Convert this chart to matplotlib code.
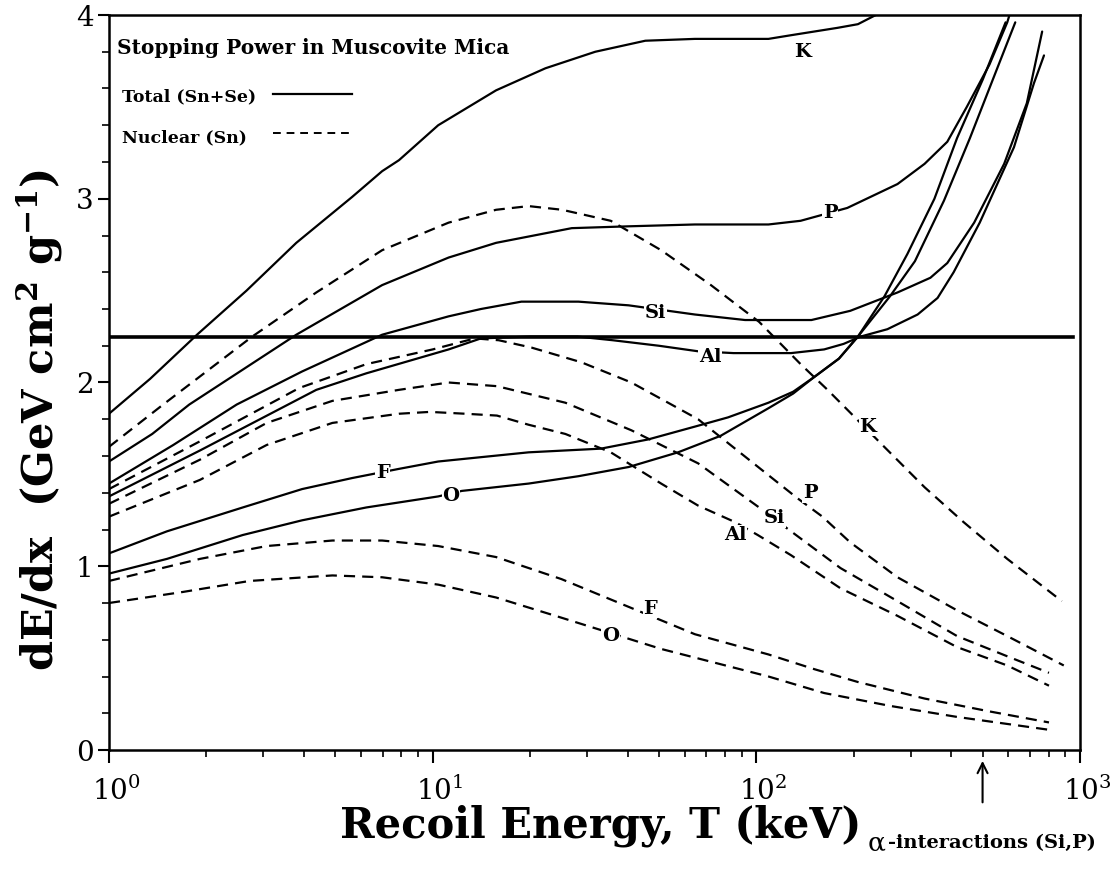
import numpy as np
import matplotlib
matplotlib.use('Agg')
import matplotlib.pyplot as plt
from matplotlib.lines import Line2D
from matplotlib.ticker import MultipleLocator, FixedLocator
import matplotlib.transforms as mtransforms

plt.rcParams['font.family'] = ['DejaVu Serif']
plt.rcParams['mathtext.fontset'] = 'dejavuserif'

# ---------------- data ----------------
# Total stopping power (Sn+Se), solid curves
K_tot_T = [1.0, 1.34, 1.87, 2.66, 3.79, 5.64, 6.98, 7.87, 10.4, 15.7, 22.3, 31.8, 45.4, 64.6, 109, 128, 178, 206, 234, 300]
K_tot_v = [1.83, 2.02, 2.26, 2.50, 2.76, 3.01, 3.15, 3.21, 3.40, 3.59, 3.71, 3.80, 3.86, 3.87, 3.87, 3.89, 3.93, 3.95, 4.0, 4.1]

P_tot_T = [1.0, 1.36, 1.77, 3.79, 6.98, 11.2, 15.7, 26.9, 40.3, 64.6, 109, 137, 191, 273, 331, 389, 447, 525, 596, 630]
P_tot_v = [1.57, 1.72, 1.88, 2.26, 2.53, 2.68, 2.76, 2.84, 2.85, 2.86, 2.86, 2.88, 2.95, 3.08, 3.19, 3.31, 3.50, 3.73, 3.96, 4.1]

Si_tot_T = [1.0, 1.58, 2.48, 3.95, 6.98, 11.2, 14.1, 18.8, 28.2, 40.3, 64.6, 92.3, 148, 195, 273, 345, 389, 471, 583, 685, 764]
Si_tot_v = [1.45, 1.66, 1.88, 2.06, 2.26, 2.36, 2.40, 2.44, 2.44, 2.42, 2.37, 2.34, 2.34, 2.39, 2.49, 2.57, 2.65, 2.87, 3.19, 3.52, 3.91]

Al_tot_T = [1.0, 1.91, 4.37, 6.24, 11.2, 14.1, 20, 28, 36, 50, 66, 85, 109, 128, 162, 186, 210, 254, 315, 363, 407, 490, 625, 721, 774]
Al_tot_v = [1.38, 1.63, 1.96, 2.05, 2.18, 2.24, 2.25, 2.25, 2.23, 2.20, 2.17, 2.16, 2.16, 2.16, 2.18, 2.21, 2.25, 2.29, 2.37, 2.46, 2.60, 2.87, 3.28, 3.63, 3.78]

F_tot_T = [1.0, 1.51, 2.59, 3.95, 5.64, 7.87, 10.4, 19.8, 33.1, 46.3, 64.6, 81.7, 109, 130, 151, 180, 206, 259, 309, 380, 457, 555, 631]
F_tot_v = [1.07, 1.19, 1.32, 1.42, 1.48, 1.53, 1.57, 1.62, 1.64, 1.69, 1.76, 1.81, 1.89, 1.95, 2.03, 2.13, 2.25, 2.47, 2.66, 2.99, 3.33, 3.71, 3.96]

O_tot_T = [1.0, 1.51, 2.59, 3.95, 6.24, 10.4, 12.3, 19.8, 28.2, 40.3, 57.3, 77.6, 109, 130, 151, 180, 206, 249, 293, 355, 417, 501, 589]
O_tot_v = [0.96, 1.04, 1.17, 1.25, 1.32, 1.38, 1.41, 1.45, 1.49, 1.54, 1.62, 1.71, 1.86, 1.94, 2.03, 2.13, 2.25, 2.47, 2.70, 3.00, 3.33, 3.65, 3.96]

# Nuclear stopping power (Sn), dashed curves
K_nuc_T = [1.0, 1.47, 2.77, 4.37, 6.98, 11.2, 15.7, 19.8, 25.1, 35.5, 50.8, 72.4, 102, 137, 166, 242, 331, 437, 596, 879]
K_nuc_v = [1.65, 1.88, 2.25, 2.49, 2.72, 2.87, 2.94, 2.96, 2.94, 2.88, 2.72, 2.53, 2.33, 2.10, 1.96, 1.67, 1.43, 1.24, 1.04, 0.81]

P_nuc_T = [1.0, 1.91, 3.87, 6.24, 10, 13.5, 16, 20.2, 28.8, 41.1, 66.1, 103, 134, 160, 195, 273, 417, 596, 891]
P_nuc_v = [1.42, 1.68, 1.97, 2.10, 2.18, 2.24, 2.23, 2.19, 2.11, 2.00, 1.80, 1.53, 1.37, 1.27, 1.13, 0.94, 0.76, 0.62, 0.46]

Si_nuc_T = [1.0, 1.91, 3.07, 4.9, 7.87, 11.2, 15.8, 25.7, 41.1, 66.1, 102, 128, 182, 273, 417, 596, 802]
Si_nuc_v = [1.34, 1.58, 1.78, 1.90, 1.96, 2.00, 1.98, 1.89, 1.74, 1.56, 1.32, 1.19, 0.99, 0.81, 0.62, 0.51, 0.42]

Al_nuc_T = [1.0, 1.91, 3.07, 4.9, 7.87, 9.8, 12.6, 15.8, 19.8, 25.7, 35.5, 50.8, 66.1, 86, 101, 128, 182, 273, 417, 596, 802]
Al_nuc_v = [1.27, 1.47, 1.66, 1.78, 1.83, 1.84, 1.83, 1.82, 1.77, 1.72, 1.62, 1.45, 1.33, 1.24, 1.17, 1.06, 0.88, 0.73, 0.56, 0.46, 0.35]

F_nuc_T = [1.0, 1.91, 3.07, 4.9, 6.98, 10.4, 15.7, 25, 64.6, 109, 151, 206, 331, 525, 802]
F_nuc_v = [0.92, 1.04, 1.11, 1.14, 1.14, 1.11, 1.05, 0.93, 0.63, 0.52, 0.44, 0.37, 0.28, 0.21, 0.15]

O_nuc_T = [1.0, 1.69, 2.72, 4.9, 6.98, 10.4, 15.7, 25, 50.8, 109, 162, 259, 417, 802]
O_nuc_v = [0.80, 0.86, 0.92, 0.95, 0.94, 0.90, 0.83, 0.72, 0.55, 0.40, 0.31, 0.24, 0.18, 0.11]

# horizontal reference line
HLINE_T = [1.0, 950]
HLINE_v = [2.25, 2.25]

# curve labels: (text, T, value, cut-line)
curve_labels = [
    ("K", 139, 3.80, False), ("P", 169, 2.92, True), ("Si", 48.7, 2.38, True),
    ("Al", 72, 2.14, True), ("F", 7.0, 1.51, True), ("O", 11.4, 1.38, True),
    ("K", 221, 1.76, True), ("P", 147, 1.40, True), ("Si", 114, 1.26, True),
    ("Al", 86, 1.17, True), ("F", 47, 0.77, True), ("O", 35.4, 0.62, True),
]
ARROW_T = 500

# ---------------- figure ----------------
W, H = 1114, 871
fig = plt.figure(figsize=(W / 100, H / 100), dpi=100)
ax = fig.add_axes([109 / W, 1 - 750 / H, 971 / W, 735 / H])

def fx(px):
    return px / W

def fy(py):
    return 1 - py / H

solid_kw = dict(color='black', lw=1.6, solid_joinstyle='round', solid_capstyle='round')
dash_kw = dict(color='black', lw=1.6, linestyle=(0, (5, 3.2)))

for T, v in [(K_tot_T, K_tot_v), (P_tot_T, P_tot_v), (Si_tot_T, Si_tot_v),
             (Al_tot_T, Al_tot_v), (F_tot_T, F_tot_v), (O_tot_T, O_tot_v)]:
    ax.plot(T, v, **solid_kw)

for T, v in [(K_nuc_T, K_nuc_v), (P_nuc_T, P_nuc_v), (Si_nuc_T, Si_nuc_v),
             (Al_nuc_T, Al_nuc_v), (F_nuc_T, F_nuc_v), (O_nuc_T, O_nuc_v)]:
    ax.plot(T, v, **dash_kw)

ax.plot(HLINE_T, HLINE_v, color='black', lw=2.6)

for txt, T, v, cut in curve_labels:
    kw = dict(ha='center', va='center', fontsize=14, fontweight='bold', zorder=5)
    if cut:
        kw['bbox'] = dict(facecolor='white', edgecolor='none', pad=0.6)
    ax.text(T, v, txt, **kw)

ax.set_xscale('log')
ax.set_xlim(1, 1000)
ax.set_ylim(0, 4)

for s in ax.spines.values():
    s.set_linewidth(1.8)

ax.yaxis.set_major_locator(FixedLocator([0, 1, 2, 3, 4]))
ax.yaxis.set_minor_locator(MultipleLocator(0.2))
ax.tick_params(axis='y', which='major', direction='out', length=8, width=1.5,
               labelsize=20, pad=3)
ax.tick_params(axis='y', which='minor', direction='out', length=5, width=1.2)
ax.tick_params(axis='x', which='major', direction='out', length=9, width=1.5,
               labelsize=20, pad=10)
ax.tick_params(axis='x', which='minor', direction='out', length=5, width=1.2)

offset = mtransforms.ScaledTranslation(0.07, 0, fig.dpi_scale_trans)
for lab in ax.get_xticklabels():
    lab.set_transform(lab.get_transform() + offset)

# axis labels
fig.text(fx(601), fy(826), "Recoil Energy, T (keV)", ha='center', va='center',
         fontsize=30, fontweight='bold')
fig.text(fx(40), fy(420), r"dE/dx  (GeV cm$^{\mathbf{2}}$ g$^{\mathbf{-1}}$)",
         ha='center', va='center', rotation=90, fontsize=31, fontweight='bold')

# title + legend
fig.text(fx(117), fy(48), "Stopping Power in Muscovite Mica", ha='left', va='center',
         fontsize=14.5, fontweight='bold')
fig.text(fx(122), fy(97), "Total (Sn+Se)", ha='left', va='center', fontsize=12.5, fontweight='bold')
fig.text(fx(122), fy(138), "Nuclear (Sn)", ha='left', va='center', fontsize=12.5, fontweight='bold')
fig.add_artist(Line2D([fx(273), fx(352)], [fy(94), fy(94)], transform=fig.transFigure,
                      color='black', lw=1.6))
fig.add_artist(Line2D([fx(273), fx(350)], [fy(133), fy(133)], transform=fig.transFigure,
                      color='black', lw=1.4, linestyle=(0, (4, 3))))

# alpha-interactions arrow and note
ax.annotate("", xy=(ARROW_T, -0.011), xycoords=('data', 'axes fraction'),
            xytext=(ARROW_T, -0.075), textcoords=('data', 'axes fraction'),
            arrowprops=dict(arrowstyle='->', lw=1.5, color='black',
                            mutation_scale=18))
fig.text(fx(868), fy(843), "\u03b1", ha='left', va='center', fontsize=19)
fig.text(fx(888), fy(843), "-interactions (Si,P)", ha='left', va='center',
         fontsize=14, fontweight='bold')

fig.savefig("out.png", dpi=100)
